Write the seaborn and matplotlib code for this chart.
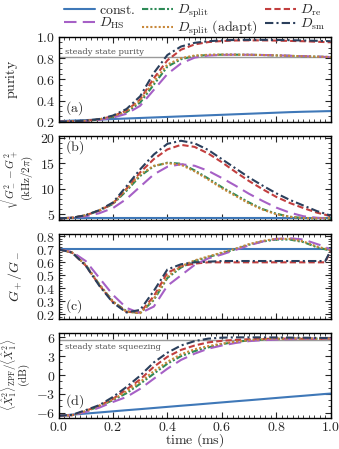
import numpy as np
import pandas as pd
import matplotlib
import matplotlib.pyplot as plt
import seaborn as sns
from matplotlib.ticker import MultipleLocator, FuncFormatter

matplotlib.use('Agg')

# time grid (ms)
time_ms = [0.0, 0.05, 0.1, 0.15, 0.2, 0.25, 0.3, 0.35, 0.4, 0.45, 0.5,
           0.55, 0.6, 0.65, 0.7, 0.75, 0.8, 0.85, 0.9, 0.95, 0.98, 1.0]

# (a) purity
pur_const = [0.205, 0.210, 0.215, 0.220, 0.225, 0.230, 0.235, 0.240, 0.245, 0.250, 0.255,
             0.260, 0.265, 0.270, 0.275, 0.280, 0.285, 0.290, 0.294, 0.297, 0.299, 0.300]
pur_split = [0.200, 0.202, 0.208, 0.220, 0.245, 0.290, 0.380, 0.550, 0.720, 0.790, 0.820,
             0.830, 0.833, 0.833, 0.832, 0.830, 0.826, 0.822, 0.818, 0.814, 0.812, 0.810]
pur_re = [0.200, 0.203, 0.209, 0.222, 0.252, 0.305, 0.410, 0.610, 0.780, 0.880, 0.930,
          0.952, 0.962, 0.967, 0.968, 0.968, 0.966, 0.963, 0.960, 0.955, 0.952, 0.950]
pur_hs = [0.200, 0.202, 0.207, 0.217, 0.238, 0.275, 0.350, 0.500, 0.650, 0.750, 0.805,
          0.825, 0.831, 0.833, 0.832, 0.830, 0.827, 0.823, 0.819, 0.815, 0.812, 0.811]
pur_adapt = [0.200, 0.202, 0.209, 0.222, 0.250, 0.300, 0.400, 0.580, 0.740, 0.800, 0.825,
             0.832, 0.834, 0.833, 0.832, 0.830, 0.826, 0.822, 0.818, 0.814, 0.812, 0.810]
pur_sm = [0.200, 0.203, 0.210, 0.225, 0.258, 0.320, 0.440, 0.660, 0.830, 0.910, 0.945,
          0.960, 0.968, 0.972, 0.973, 0.973, 0.972, 0.970, 0.967, 0.964, 0.962, 0.960]
purity_ss = 0.81

# (b) sqrt(G-^2 - G+^2) in kHz/2pi
g_const = [4.2] * 22
g_split = [4.2, 4.3, 4.8, 5.7, 7.0, 9.6, 12.5, 14.4, 15.1, 14.9, 13.6,
           12.0, 10.3, 8.8, 7.3, 6.0, 5.1, 4.5, 4.25, 4.2, 4.2, 4.2]
g_re = [4.2, 4.3, 4.8, 5.7, 7.1, 10.0, 13.2, 15.8, 17.7, 18.6, 18.2,
        16.9, 15.2, 13.3, 11.5, 9.9, 8.4, 7.2, 6.2, 5.3, 4.9, 4.6]
g_hs = [4.2, 4.3, 4.6, 5.2, 6.2, 8.0, 10.4, 12.8, 14.3, 14.8, 14.5,
        13.5, 12.1, 10.6, 9.0, 7.6, 6.3, 5.3, 4.6, 4.3, 4.2, 4.2]
g_adapt = [4.2, 4.3, 4.8, 5.8, 7.2, 9.9, 12.8, 14.5, 15.0, 14.7, 13.4,
           11.8, 10.1, 8.6, 7.1, 5.9, 5.0, 4.5, 4.25, 4.2, 4.2, 4.2]
g_sm = [4.2, 4.3, 4.8, 5.8, 7.3, 10.5, 13.8, 16.7, 18.8, 19.4, 18.9,
        17.6, 15.8, 14.0, 12.2, 10.6, 9.1, 7.8, 6.7, 5.6, 5.1, 4.7]

# (c) G+/G-
r_const = [0.70] * 22
r_split = [0.70, 0.675, 0.58, 0.43, 0.30, 0.225, 0.21, 0.31, 0.48, 0.56, 0.61,
           0.64, 0.67, 0.70, 0.735, 0.76, 0.775, 0.775, 0.755, 0.715, 0.70, 0.69]
r_re = [0.70, 0.675, 0.575, 0.425, 0.295, 0.22, 0.215, 0.34, 0.52, 0.57, 0.59,
        0.60, 0.60, 0.60, 0.60, 0.60, 0.60, 0.60, 0.60, 0.60, 0.60, 0.69]
r_hs = [0.70, 0.68, 0.61, 0.48, 0.35, 0.25, 0.21, 0.26, 0.42, 0.50, 0.58,
        0.63, 0.66, 0.695, 0.73, 0.76, 0.78, 0.785, 0.775, 0.74, 0.72, 0.69]
r_adapt = [0.70, 0.675, 0.58, 0.43, 0.30, 0.22, 0.21, 0.32, 0.49, 0.57, 0.615,
           0.645, 0.675, 0.705, 0.74, 0.765, 0.78, 0.78, 0.76, 0.72, 0.705, 0.69]
r_sm = [0.70, 0.675, 0.575, 0.42, 0.29, 0.215, 0.235, 0.38, 0.545, 0.585, 0.60,
        0.605, 0.61, 0.61, 0.61, 0.61, 0.61, 0.61, 0.61, 0.61, 0.61, 0.69]

# (d) squeezing in dB
sq_const = [-6.50, -6.32, -6.15, -5.97, -5.79, -5.61, -5.44, -5.26, -5.08, -4.90, -4.73,
            -4.55, -4.37, -4.19, -4.02, -3.84, -3.66, -3.48, -3.31, -3.13, -3.02, -2.96]
sq_split = [-6.5, -6.4, -5.8, -5.0, -4.0, -2.9, -1.4, 0.2, 1.8, 3.0, 3.8,
            4.4, 4.9, 5.3, 5.5, 5.65, 5.75, 5.8, 5.8, 5.8, 5.8, 5.8]
sq_re = [-6.5, -6.4, -5.7, -4.9, -3.8, -2.3, -0.7, 1.3, 2.9, 4.0, 4.7,
         5.2, 5.45, 5.6, 5.7, 5.75, 5.8, 5.8, 5.78, 5.76, 5.75, 5.75]
sq_hs = [-6.5, -6.4, -5.9, -5.2, -4.3, -3.5, -2.2, -0.6, 1.0, 2.4, 3.4,
         4.2, 4.7, 5.1, 5.4, 5.55, 5.65, 5.72, 5.76, 5.8, 5.8, 5.8]
sq_adapt = [-6.5, -6.4, -5.75, -4.9, -3.9, -2.6, -1.1, 0.6, 2.1, 3.3, 4.1,
            4.6, 5.0, 5.3, 5.55, 5.7, 5.78, 5.8, 5.8, 5.8, 5.8, 5.8]
sq_sm = [-6.5, -6.35, -5.6, -4.8, -3.5, -1.9, -0.1, 2.0, 3.55, 4.7, 5.4,
         5.8, 5.95, 6.0, 6.0, 6.0, 5.98, 5.96, 5.94, 5.92, 5.9, 5.9]
squeeze_ss = 5.55

labels = [r'$\mathrm{const.}$', r'$D_{\mathrm{split}}$', r'$D_{\mathrm{re}}$',
          r'$D_{\mathrm{HS}}$', r'$D_{\mathrm{split}}\ \mathrm{(adapt)}$', r'$D_{\mathrm{sm}}$']
colors = ['#3f78b8', '#2e8b57', '#c23e3e', '#a660c6', '#c8883a', '#2b3f5c']
styles = ['-', (0, (3, 1, 1, 1, 1, 1)), (0, (3, 1.5)), (0, (6, 3)),
          (0, (1, 1)), (0, (4, 1.5, 1, 1.5))]

panels = [
    [pur_const, pur_split, pur_re, pur_hs, pur_adapt, pur_sm],
    [g_const, g_split, g_re, g_hs, g_adapt, g_sm],
    [r_const, r_split, r_re, r_hs, r_adapt, r_sm],
    [sq_const, sq_split, sq_re, sq_hs, sq_adapt, sq_sm],
]

FS = 10

sns.set_theme(style='ticks')
plt.rcParams['font.family'] = ['DejaVu Serif']
plt.rcParams['mathtext.fontset'] = 'cm'
plt.rcParams['font.size'] = FS

fig, axes = plt.subplots(4, 1, figsize=(3.39, 4.49), dpi=100, sharex=True)
fig.subplots_adjust(left=0.1726, right=0.9755, top=0.9176, bottom=0.0698, hspace=0.165)

for ax, series in zip(axes, panels):
    for vals, lab, c, ls in zip(series, labels, colors, styles):
        sns.lineplot(x=time_ms, y=vals, ax=ax, color=c, linestyle=ls, lw=1.5, label=lab)
    ax.get_legend().remove()

# steady state lines
axes[0].axhline(purity_ss, color='#9a9a9a', lw=1.0, zorder=0)
axes[0].text(0.025, purity_ss + 0.012, 'steady state purity',
             transform=axes[0].get_yaxis_transform(), fontsize=6, color='#555555', va='bottom')
axes[3].axhline(squeeze_ss, color='#9a9a9a', lw=1.0, zorder=0)
axes[3].text(0.025, squeeze_ss - 0.5, 'steady state squeezing',
             transform=axes[3].get_yaxis_transform(), fontsize=6, color='#555555', va='top')

axes[0].set_ylim(0.2, 1.0)
axes[1].set_ylim(3.8, 20.4)
axes[2].set_ylim(0.165, 0.815)
axes[3].set_ylim(-6.8, 6.7)
axes[3].set_xlim(0, 1.0)

axes[0].yaxis.set_major_locator(MultipleLocator(0.2))
axes[0].yaxis.set_minor_locator(MultipleLocator(0.05))
axes[1].yaxis.set_major_locator(MultipleLocator(5))
axes[1].yaxis.set_minor_locator(MultipleLocator(1))
axes[2].yaxis.set_major_locator(MultipleLocator(0.1))
axes[2].yaxis.set_minor_locator(MultipleLocator(0.02))
axes[3].yaxis.set_major_locator(MultipleLocator(3))
axes[3].yaxis.set_minor_locator(MultipleLocator(1))
axes[3].xaxis.set_major_locator(MultipleLocator(0.2))
axes[3].xaxis.set_minor_locator(MultipleLocator(0.02))

fmt1 = FuncFormatter(lambda v, p: r'$%.1f$' % v)
fmt0 = FuncFormatter(lambda v, p: r'$%d$' % round(v))
axes[0].yaxis.set_major_formatter(fmt1)
axes[1].yaxis.set_major_formatter(fmt0)
axes[2].yaxis.set_major_formatter(fmt1)
axes[3].yaxis.set_major_formatter(fmt0)
axes[3].xaxis.set_major_formatter(fmt1)

ylabels = [r'$\mathrm{purity}$',
           r'$\sqrt{G_-^2-G_+^2}$' + '\n' + r'$(\mathrm{kHz}/2\pi)$',
           r'$G_+/G_-$',
           r'$\langle\hat{X}_1^2\rangle_{\mathrm{ZPF}}/\langle\hat{X}_1^2\rangle$' + '\n' + r'$(\mathrm{dB})$']
label_x = [-0.141, -0.088, -0.123, -0.098]
label_fs = [FS, 8, FS, 8]
letters = ['(a)', '(b)', '(c)', '(d)']
letter_y = [0.16, 0.87, 0.15, 0.19]
for ax, yl, lx, lfs, letter, ly in zip(axes, ylabels, label_x, label_fs, letters, letter_y):
    ax.set_ylabel(yl, fontsize=lfs, linespacing=0.8)
    ax.yaxis.set_label_coords(lx, 0.5)
    ax.text(0.025, ly, r'$\mathrm{%s}$' % letter, transform=ax.transAxes,
            fontsize=FS, va='center', ha='left')
    ax.tick_params(which='both', direction='in', top=True, right=True, labelsize=FS, pad=2.5)
    ax.tick_params(which='major', length=4, width=0.8)
    ax.tick_params(which='minor', length=2, width=0.6)
    for s in ax.spines.values():
        s.set_linewidth(1.0)
        s.set_color('black')

axes[3].tick_params(axis='x', which='both', pad=1.5)
axes[3].set_xlabel(r'$\mathrm{time\ (ms)}$', fontsize=FS, va='center')
axes[3].xaxis.set_label_coords(0.5, -0.27)

handles, labs = axes[0].get_legend_handles_labels()
order = [0, 3, 1, 4, 2, 5]
fig.legend([handles[i] for i in order], [labs[i] for i in order], ncol=3,
           loc='upper center', bbox_to_anchor=(0.574, 1.012), frameon=False,
           fontsize=FS, handlelength=2.2, columnspacing=0.5, handletextpad=0.3,
           labelspacing=-0.1, borderpad=0.1)

plt.savefig('out.png', dpi=100, facecolor='white')
